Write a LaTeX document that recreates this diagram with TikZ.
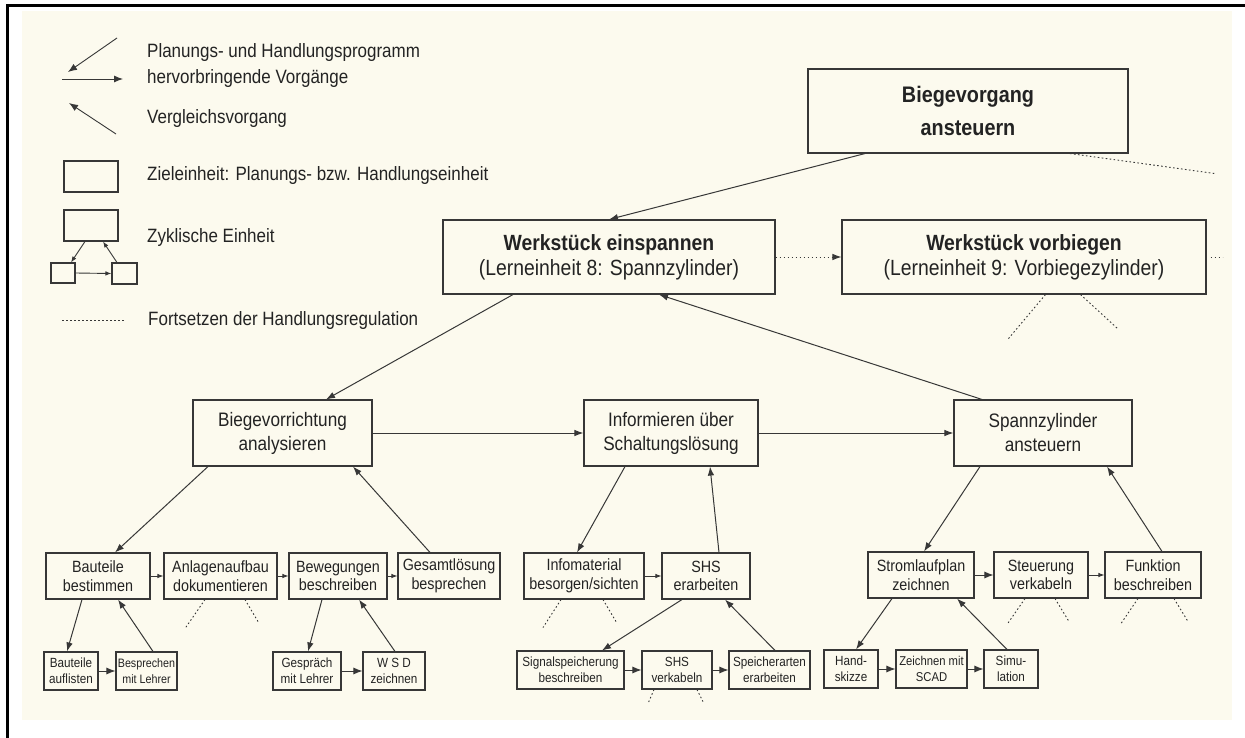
\documentclass[tikz,border=0pt]{standalone}
\usepackage{fontspec}
\setmainfont[FakeStretch=0.88]{Liberation Sans}
\usetikzlibrary{arrows.meta,calc}
\definecolor{paper}{RGB}{252,250,238}
\definecolor{ink}{RGB}{55,55,55}
\definecolor{txt}{RGB}{35,35,35}
\newcommand\fsz[2]{\fontsize{#1}{#2}\selectfont}
\tikzset{
  box/.style={draw=ink, line width=1.1pt, align=center, inner sep=0pt, text=txt},
  lvA/.style={box, font=\fsz{22.5}{33}\bfseries},
  lvB/.style={box, font=\fsz{22}{25}},
  lvC/.style={box, font=\fsz{19.5}{24}},
  lvD/.style={box, font=\fsz{16.3}{18.5}},
  lvE/.style={box, font=\fsz{13.3}{16}},
  con/.style={draw=ink, line width=1pt, -{Latex[length=9pt,width=6.5pt]}},
  conS/.style={draw=ink, line width=0.9pt, -{Latex[length=6pt,width=4.5pt]}},
  conL/.style={draw=ink, line width=0.9pt, -{Latex[length=9pt,width=7pt]}},
  cont/.style={draw=ink, line width=0.9pt, dash pattern=on 1.6pt off 2.4pt},
  legtxt/.style={anchor=base west, inner sep=0pt, text=txt, font=\fsz{19.3}{22}},
}
\begin{document}
\begin{tikzpicture}[x=1pt,y=-1pt]
\useasboundingbox (0,0) rectangle (1245,738);
% paper and frame
\fill[white] (0,0) rectangle (1245,738);
\fill[paper] (22,11) rectangle (1232,720);
\draw[black, line width=3pt] (6,6) -- (1245,6);
\draw[black, line width=2.2pt] (7.5,5) -- (7.5,738);

% ---------- legend ----------
\coordinate (a1s) at (117,38);  \coordinate (a1e) at (68,72);
\coordinate (a2s) at (62,79);   \coordinate (a2e) at (123,79);
\coordinate (a3s) at (116,134); \coordinate (a3e) at (69,103);
\coordinate (d1s) at (62,320);  \coordinate (d1e) at (124,320);
\draw[conL] (a1s) -- (a1e);
\draw[conL] (a2s) -- (a2e);
\draw[conL] (a3s) -- (a3e);
\draw[cont] (d1s) -- (d1e);
\node[box, minimum width=54pt, minimum height=31pt] (Lr) at (91,176.5) {};
\node[box, minimum width=54pt, minimum height=31pt] (Ct) at (91,225.5) {};
\node[box, minimum width=24pt, minimum height=20pt] (Cl) at (63,273) {};
\node[box, minimum width=25pt, minimum height=21pt] (Cr) at (124.5,273.5) {};
\draw[conS] ([xshift=-6pt]Ct.south) -- ([xshift=8pt]Cl.north);
\draw[conS] ([xshift=-7.5pt]Cr.north) -- ([xshift=12pt]Ct.south);
\draw[conS] (Cl.east) -- (Cr.west);
\node[legtxt] (t1) at (147,58) {Planungs- und Handlungsprogramm};
\node[legtxt] (t2) at (147,84) {hervorbringende Vorgänge};
\node[legtxt] (t3) at (147,124) {Vergleichsvorgang};
\node[legtxt] (t4) at (147,181) {Zieleinheit: Planungs- bzw. Handlungseinheit};
\node[legtxt] (t5) at (147,243) {Zyklische Einheit};
\node[legtxt] (t6) at (148,325) {Fortsetzen der Handlungsregulation};

% ---------- top levels ----------
\node[lvA, minimum width=320pt, minimum height=84pt] (BV) at (968,111) {Biegevorgang\\ansteuern};
\node[lvB, minimum width=332pt, minimum height=74pt] (WE) at (609,257)
  {\textbf{Werkstück einspannen}\\(Lerneinheit 8: Spannzylinder)};
\node[lvB, minimum width=364pt, minimum height=74pt] (WV) at (1024,257)
  {\textbf{Werkstück vorbiegen}\\(Lerneinheit 9: Vorbiegezylinder)};

\node[lvC, minimum width=179pt, minimum height=66pt] (BA) at (282.5,433) {Biegevorrichtung\\analysieren};
\node[lvC, minimum width=174pt, minimum height=66pt] (IN) at (671,433) {Informieren über\\Schaltungslösung};
\node[lvC, minimum width=178pt, minimum height=66pt] (SP) at (1043,433) {Spannzylinder\\ansteuern};

% ---------- third level ----------
\node[lvD, minimum width=104pt, minimum height=46pt] (BB) at (98,576) {Bauteile\\bestimmen};
\node[lvD, minimum width=113pt, minimum height=46pt] (AD) at (220.5,576) {Anlagenaufbau\\dokumentieren};
\node[lvD, minimum width=98pt,  minimum height=46pt] (BW) at (338,576) {Bewegungen\\beschreiben};
\node[lvD, minimum width=102pt, minimum height=46pt] (GL) at (449,576) {Gesamtlösung\\besprechen};
\node[lvD, minimum width=120pt, minimum height=46pt] (IM) at (584,576) {Infomaterial\\besorgen/sichten};
\node[lvD, minimum width=88pt,  minimum height=46pt] (SE) at (706,576) {SHS\\erarbeiten};
\node[lvD, minimum width=106pt, minimum height=46pt] (SL) at (921,575) {Stromlaufplan\\zeichnen};
\node[lvD, minimum width=94pt,  minimum height=46pt] (SV) at (1041,575) {Steuerung\\verkabeln};
\node[lvD, minimum width=96pt,  minimum height=46pt] (FB) at (1153,575) {Funktion\\beschreiben};

% ---------- fourth level ----------
\node[lvE, minimum width=54pt,  minimum height=38pt] (BL) at (71,671) {Bauteile\\auflisten};
\node[lvE, minimum width=61pt,  minimum height=38pt, font=\fsz{12.2}{16}] (BM) at (146.5,671) {Besprechen\\mit Lehrer};
\node[lvE, minimum width=68pt,  minimum height=38pt] (GM) at (307,671) {Gespräch\\mit Lehrer};
\node[lvE, minimum width=62pt,  minimum height=38pt] (WS) at (394,671) {W S D\\zeichnen};
\node[lvE, minimum width=107pt, minimum height=38pt] (SB) at (570.5,670) {Signalspeicherung\\beschreiben};
\node[lvE, minimum width=70pt,  minimum height=38pt] (SK) at (677,670) {SHS\\verkabeln};
\node[lvE, minimum width=81pt,  minimum height=38pt] (SA) at (769.5,670) {Speicherarten\\erarbeiten};
\node[lvE, minimum width=54pt,  minimum height=38pt] (HS) at (851,669) {Hand-\\skizze};
\node[lvE, minimum width=71pt,  minimum height=38pt, font=\fsz{12.8}{16}] (ZS) at (931.5,669) {Zeichnen mit\\SCAD};
\node[lvE, minimum width=54pt,  minimum height=38pt] (SI) at (1011,669) {Simu-\\lation};

% ---------- connectors ----------
\draw[con] ([xshift=-103pt]BV.south) -- (WE.north);
\draw[cont, -{Latex[length=9pt,width=6.5pt]}] (WE.east) -- (WV.west);
\draw[con] ([xshift=-96pt]WE.south) -- ([xshift=43.5pt]BA.north);
\draw[con] ([xshift=-61pt]SP.north) -- ([xshift=50pt]WE.south);
\draw[con] (BA.east) -- (IN.west);
\draw[con] (IN.east) -- (SP.west);

\draw[con] ([xshift=-74.5pt]BA.south) -- ([xshift=17pt]BB.north);
\draw[con] ([xshift=-19pt]GL.north) -- ([xshift=70.5pt]BA.south);
\draw[conS] (BB.east) -- (AD.west);
\draw[conS] (AD.east) -- (BW.west);
\draw[conS] (BW.east) -- (GL.west);
\draw[con] ([xshift=-16pt]BB.south) -- ([xshift=-4pt]BL.north);
\draw[con] ([xshift=6.5pt]BM.north) -- ([xshift=20pt]BB.south);
\draw[conL] (BL.east) -- (BM.west);
\draw[con] ([xshift=-16pt]BW.south) -- ([xshift=1pt]GM.north);
\draw[con] ([xshift=1pt]WS.north) -- ([xshift=21pt]BW.south);
\draw[conL] (GM.east) -- (WS.west);

\draw[con] ([xshift=-46pt]IN.south) -- ([xshift=-7pt]IM.north);
\draw[con] ([xshift=13pt]SE.north) -- ([xshift=39pt]IN.south);
\draw[conS] (IM.east) -- (SE.west);
\draw[con] ([xshift=-24pt]SE.south) -- ([xshift=31.5pt]SB.north);
\draw[con] ([xshift=5.5pt]SA.north) -- ([xshift=19pt]SE.south);
\draw[conL] (SB.east) -- (SK.west);
\draw[conL] (SK.east) -- (SA.west);

\draw[con] ([xshift=-63pt]SP.south) -- ([xshift=3pt]SL.north);
\draw[con] ([xshift=9pt]FB.north) -- ([xshift=64pt]SP.south);
\draw[conL] (SL.east) -- (SV.west);
\draw[conS] (SV.east) -- (FB.west);
\draw[con] ([xshift=-29pt]SL.south) -- ([xshift=5pt]HS.north);
\draw[con] ([xshift=-4pt]SI.north) -- ([xshift=36pt]SL.south);
\draw[conL] (HS.east) -- (ZS.west);
\draw[conL] (ZS.east) -- (SI.west);

% ---------- continuation stubs ----------
\draw[cont] ([xshift=102pt]BV.south) -- ++(145,20);
\draw[cont] ([xshift=4pt]WV.east) -- ++(12,0);
\draw[cont] ([xshift=21.5pt]WV.south) -- ++(-37,44);
\draw[cont] ([xshift=56.5pt]WV.south) -- ++(37,34);
\draw[cont] ([xshift=-15.5pt]AD.south) -- ++(-20,29);
\draw[cont] ([xshift=24.5pt]AD.south) -- ++(13,22);
\draw[cont] ([xshift=-23pt]IM.south) -- ++(-18,28);
\draw[cont] ([xshift=19pt]IM.south) -- ++(13,22);
\draw[cont] ([xshift=-23pt]SK.south) -- ++(-6,14);
\draw[cont] ([xshift=20pt]SK.south) -- ++(6,12);
\draw[cont] ([xshift=-16pt]SV.south) -- ++(-18,26);
\draw[cont] ([xshift=14pt]SV.south) -- ++(14,23);
\draw[cont] ([xshift=-15pt]FB.south) -- ++(-17,25);
\draw[cont] ([xshift=21pt]FB.south) -- ++(14,23);
\end{tikzpicture}
\end{document}
